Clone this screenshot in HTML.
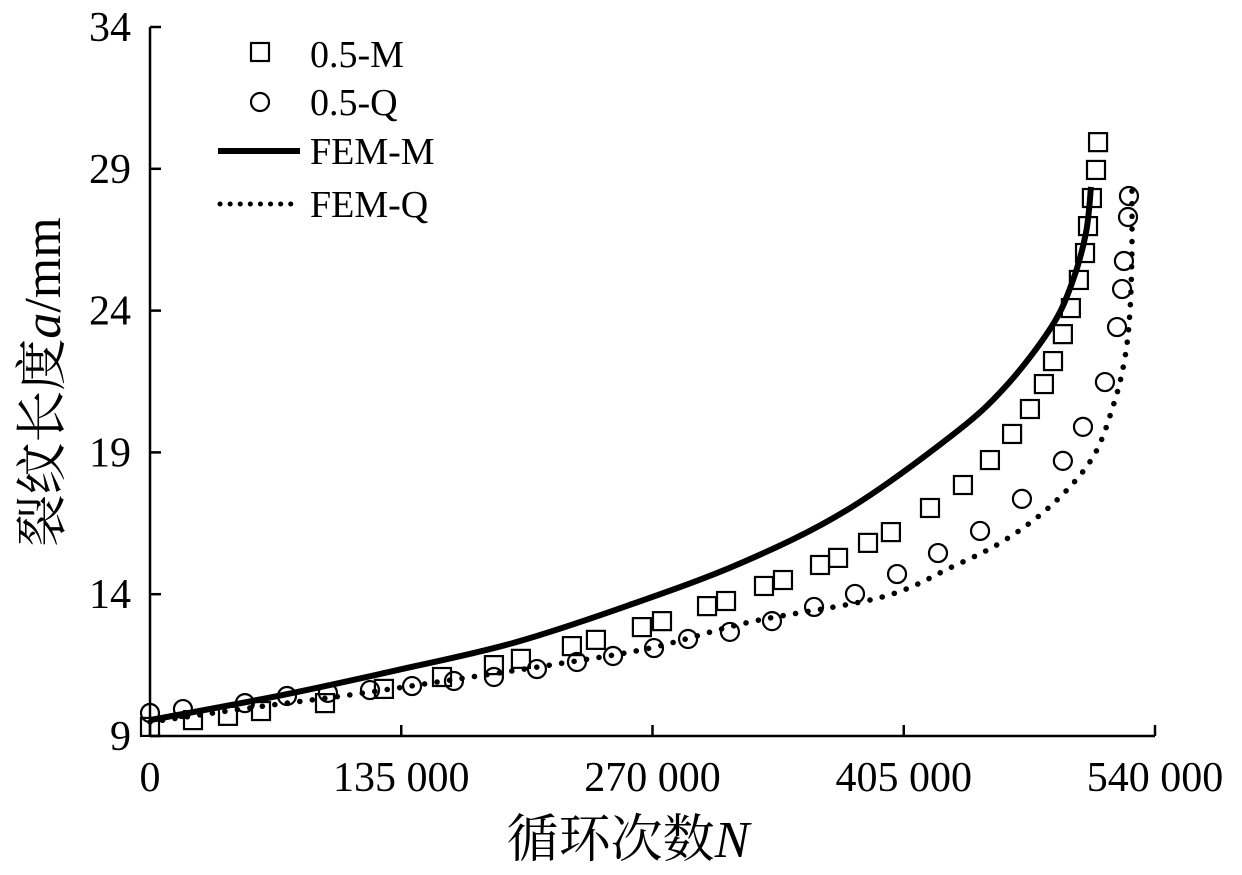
<!DOCTYPE html>
<html><head><meta charset="utf-8"><style>
html,body{margin:0;padding:0;background:#fff;}
svg{display:block;font-family:"Liberation Serif","Noto Serif CJK SC",serif;}
</style></head><body>
<svg id="chart" width="1242" height="875" viewBox="0 0 1242 875" xmlns="http://www.w3.org/2000/svg">
<g id="axes"></g>
<g id="series"></g>
<g id="legend">
  <rect x="251" y="43" width="18" height="18" fill="none" stroke="#000" stroke-width="2.2"/>
  <text x="310" y="67" font-size="38">0.5-M</text>
  <circle cx="260" cy="102" r="9" fill="none" stroke="#000" stroke-width="2.2"/>
  <text x="310" y="115" font-size="38">0.5-Q</text>
  <line x1="218" y1="151" x2="300" y2="151" stroke="#000" stroke-width="6"/>
  <text x="310" y="164" font-size="38">FEM-M</text>
  <line x1="220" y1="204" x2="300" y2="204" stroke="#000" stroke-width="5" stroke-dasharray="0.1 10" stroke-linecap="round"/>
  <text x="310" y="217" font-size="38">FEM-Q</text>
</g>
</svg>
<script>
const xTicks = [0, 135000, 270000, 405000, 540000];
const xTickLabels = ["0", "135 000", "270 000", "405 000", "540 000"];
const yTicks = [9, 14, 19, 24, 29, 34];
const yTickLabels = ["9", "14", "19", "24", "29", "34"];
const mN = [0,23100,41900,59640,94030,125700,156900,184800,199300,226700,239600,264300,275100,299300,309500,329900,340100,360000,369700,385800,398100,419100,436800,451300,463200,472800,480300,485200,490500,494800,499100,502400,504000,506100,508300,509400];
const mA = [9.32,9.56,9.71,9.88,10.16,10.66,11.08,11.50,11.72,12.17,12.39,12.84,13.05,13.58,13.76,14.29,14.50,15.03,15.28,15.81,16.19,17.04,17.85,18.73,19.65,20.53,21.41,22.22,23.17,24.09,25.08,26.03,26.98,27.97,28.96,29.94];
const qN = [0,17700,51000,73600,95600,118200,140800,163300,184800,207900,229400,248800,270800,289100,311600,334200,356800,378800,401400,423400,446000,468500,490500,501300,513100,519600,522300,523300,525500,526000];
const qA = [9.81,9.95,10.16,10.41,10.52,10.62,10.76,10.94,11.08,11.36,11.61,11.82,12.10,12.42,12.67,13.05,13.55,14.01,14.71,15.45,16.23,17.36,18.70,19.90,21.48,23.42,24.76,25.75,27.30,28.04];
const femMN = [0,71500,133300,195100,256800,317600,374000,430900,459400,484100,495400,502900,505600];
const femMA = [9.56,10.45,11.33,12.28,13.60,15.10,16.95,19.6,21.3,23.4,24.97,26.74,28.36];
const femQN = [0,53700,107500,161200,214900,268700,322400,393300,430900,459400,485700,506700,518000,523900,526600,527600,527600];
const femQA = [9.49,9.99,10.45,10.97,11.50,12.10,13.02,13.90,14.96,15.91,17.22,18.84,20.74,22.36,24.02,26.14,28.25];

const NS = "http://www.w3.org/2000/svg";
const X0 = 150, X1 = 1155, Y0 = 736, Y1 = 27;
const xs = v => X0 + (v - 0) / 540000 * (X1 - X0);
const ys = v => Y0 - (v - 9) / 25 * (Y0 - Y1);
function mk(tag, attrs, parent) {
  const e = document.createElementNS(NS, tag);
  for (const k in attrs) e.setAttribute(k, attrs[k]);
  parent.appendChild(e);
  return e;
}
const axes = document.getElementById('axes');
const series = document.getElementById('series');

const xAxis = mk('line', {x1: X0, y1: Y0, x2: X1, y2: Y0, stroke: '#000', 'stroke-width': 2.5}, axes);


const yAxis = mk('line', {x1: X0, y1: Y0, x2: X0, y2: Y1, stroke: '#000', 'stroke-width': 2.5}, axes);



xTicks.forEach((t, i) => {
  const tk = mk('line', {x1: xs(t), y1: Y0, x2: xs(t), y2: Y0 - 11, stroke: '#000', 'stroke-width': 2.5}, axes);
  
  
  const lb = mk('text', {x: xs(t), y: 791, 'font-size': 42, 'text-anchor': 'middle'}, axes);
  lb.textContent = xTickLabels[i];
  
  
});
yTicks.forEach((t, i) => {
  const tk = mk('line', {x1: X0, y1: ys(t), x2: X0 + 11, y2: ys(t), stroke: '#000', 'stroke-width': 2.5}, axes);
  
  
  const lb = mk('text', {x: 131, y: ys(t) + 14, 'font-size': 42, 'text-anchor': 'end'}, axes);
  lb.textContent = yTickLabels[i];
  
  
});
const xt = mk('text', {x: 628, y: 857, 'font-size': 52, 'text-anchor': 'middle'}, axes);
xt.innerHTML = '循环次数<tspan font-style="italic">N</tspan>';


const yt = mk('text', {x: 0, y: 0, 'font-size': 52, 'text-anchor': 'middle', transform: 'translate(60,382) rotate(-90)'}, axes);
yt.innerHTML = '裂纹长度<tspan font-style="italic">a</tspan>/mm';



function smoothPath(N, A) {
  const p = N.map((n, i) => [xs(n), ys(A[i])]);
  let d = 'M' + p[0][0] + ',' + p[0][1];
  for (let i = 0; i < p.length - 1; i++) {
    const p0 = p[Math.max(0, i - 1)], p1 = p[i], p2 = p[i + 1], p3 = p[Math.min(p.length - 1, i + 2)];
    const c1 = [p1[0] + (p2[0] - p0[0]) / 6, p1[1] + (p2[1] - p0[1]) / 6];
    const c2 = [p2[0] - (p3[0] - p1[0]) / 6, p2[1] - (p3[1] - p1[1]) / 6];
    d += ' C' + c1 + ' ' + c2 + ' ' + p2;
  }
  return d;
}
const lm = mk('path', {d: smoothPath(femMN, femMA), fill: 'none', stroke: '#000', 'stroke-width': 6}, series);


const lq = mk('path', {d: smoothPath(femQN, femQA), fill: 'none', stroke: '#000', 'stroke-width': 5.5, 'stroke-dasharray': '0.1 12.5', 'stroke-linecap': 'round'}, series);



mN.forEach((n, i) => {
  const r = mk('rect', {x: xs(n) - 9, y: ys(mA[i]) - 9, width: 18, height: 18, fill: 'none', stroke: '#000', 'stroke-width': 2.2}, series);
  
  
});
qN.forEach((n, i) => {
  const c = mk('circle', {cx: xs(n), cy: ys(qA[i]), r: 9, fill: 'none', stroke: '#000', 'stroke-width': 2.2}, series);
  
  
});
</script>
</body></html>
